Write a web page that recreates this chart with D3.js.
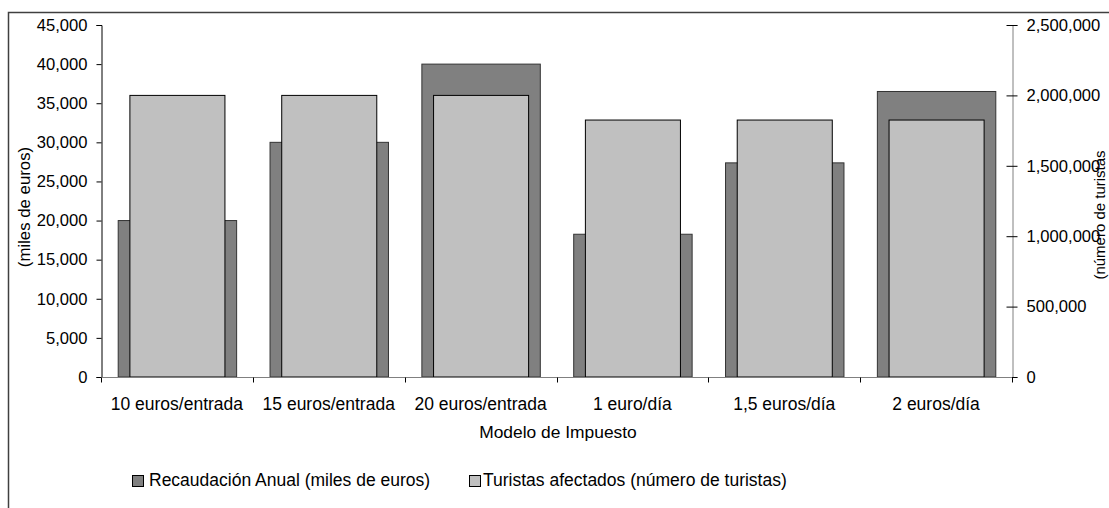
<!DOCTYPE html>
<html>
<head>
<meta charset="utf-8">
<script src="https://cdn.jsdelivr.net/npm/d3@7"></script>
<style>
  html, body { margin: 0; padding: 0; background: #fff; }
  svg { display: block; }
  text { font-family: "Liberation Sans", Arial, sans-serif; fill: #000; }
</style>
</head>
<body>
<svg id="chart" width="1109" height="508"></svg>
<script>
// ---- Data ----
const categories = ["10 euros/entrada", "15 euros/entrada", "20 euros/entrada", "1 euro/día", "1,5 euros/día", "2 euros/día"];
const recaudacion = [20000, 30000, 40000, 18250, 27375, 36500];          // miles de euros (left axis)
const turistas = [2000000, 2000000, 2000000, 1825000, 1825000, 1825000]; // número de turistas (right axis)
const leftTicks = [0, 5000, 10000, 15000, 20000, 25000, 30000, 35000, 40000, 45000];
const rightTicks = [0, 500000, 1000000, 1500000, 2000000, 2500000];
const seriesNames = ["Recaudación Anual (miles de euros)", "Turistas afectados (número de turistas)"];
const seriesColors = ["#808080", "#c0c0c0"];

const svg = d3.select("#chart");
const W = 1109, H = 508;
const plot = { left: 101, right: 1012, top: 25, bottom: 377 };

// frame
svg.append("path")
  .attr("d", `M8.5,${H} L8.5,12.5 L${W},12.5`)
  .attr("fill", "none").attr("stroke", "#404040").attr("stroke-width", 1.5);

const x = d3.scaleBand().domain(categories).range([plot.left, plot.right]).padding(0);
const yL = d3.scaleLinear().domain([0, 45000]).range([plot.bottom, plot.top]);
const yR = d3.scaleLinear().domain([0, 2500000]).range([plot.bottom, plot.top]);

const bw = x.bandwidth();
const darkW = bw * 0.78;
const lightW = bw * 0.626;

// dark bars (primary)
svg.append("g").selectAll("rect").data(categories).join("rect")
  .attr("x", (d) => x(d) + (bw - darkW) / 2 + 0.5)
  .attr("y", (d, i) => yL(recaudacion[i]))
  .attr("width", darkW)
  .attr("height", (d, i) => plot.bottom - yL(recaudacion[i]))
  .attr("fill", seriesColors[0]).attr("stroke", "#333").attr("stroke-width", 1);

// light bars (secondary)
svg.append("g").selectAll("rect").data(categories).join("rect")
  .attr("x", (d) => x(d) + (bw - lightW) / 2 + 0.5)
  .attr("y", (d, i) => yR(turistas[i]))
  .attr("width", lightW)
  .attr("height", (d, i) => plot.bottom - yR(turistas[i]))
  .attr("fill", seriesColors[1]).attr("stroke", "#000").attr("stroke-width", 1);

// left axis
const gL = svg.append("g").attr("transform", `translate(${plot.left + 0.5},0)`)
  .call(d3.axisLeft(yL).tickValues(leftTicks).tickSize(5).tickPadding(9).tickFormat(d3.format(",")));
gL.select(".domain").attr("stroke", "#000");
gL.selectAll(".tick line").attr("stroke", "#000");
gL.selectAll(".tick text").attr("font-size", "16.6px").attr("font-family", "Liberation Sans, Arial, sans-serif");

// right axis
const gR = svg.append("g").attr("transform", `translate(${plot.right + 0.5},0)`)
  .call(d3.axisRight(yR).tickValues(rightTicks).tickSize(5).tickPadding(9).tickFormat(d3.format(",")));
gR.select(".domain").attr("stroke", "#808080");
gR.selectAll(".tick line").attr("stroke", "#000").attr("x1", -6);
gR.selectAll(".tick text").attr("font-size", "16.6px").attr("font-family", "Liberation Sans, Arial, sans-serif");

// bottom axis
const gB = svg.append("g").attr("transform", `translate(0,${plot.bottom + 0.5})`);
gB.append("line").attr("x1", plot.left).attr("x2", plot.right).attr("stroke", "#808080");
const boundaries = categories.map((c) => x(c)).concat([x(categories[categories.length - 1]) + bw]);
gB.selectAll("line.tk").data(boundaries).join("line").attr("class", "tk")
  .attr("x1", (d) => Math.round(d) + 0.5).attr("x2", (d) => Math.round(d) + 0.5)
  .attr("y1", 0).attr("y2", 5).attr("stroke", "#000");
gB.selectAll("text").data(categories).join("text")
  .attr("x", (d) => x(d) + bw / 2).attr("y", 32)
  .attr("text-anchor", "middle").attr("font-size", "17.5px").text((d) => d);

// axis titles
svg.append("text").attr("x", 558).attr("y", 438).attr("text-anchor", "middle")
  .attr("font-size", "17.4px").text("Modelo de Impuesto");
svg.append("text").attr("transform", "translate(30,207) rotate(-90)").attr("text-anchor", "middle")
  .attr("font-size", "16.8px").text("(miles de euros)");
svg.append("text").attr("transform", "translate(1105,215) rotate(-90)").attr("text-anchor", "middle")
  .attr("font-size", "15px").text("(número de turistas");

// legend
const legendItems = [
  { sq: 132, tx: 149 },
  { sq: 469, tx: 483 }
];
const lg = svg.append("g");
lg.selectAll("rect").data(seriesNames).join("rect")
  .attr("x", (d, i) => legendItems[i].sq + 0.5).attr("y", 475.5)
  .attr("width", 11).attr("height", 11)
  .attr("fill", (d, i) => seriesColors[i]).attr("stroke", "#000");
lg.selectAll("text").data(seriesNames).join("text")
  .attr("x", (d, i) => legendItems[i].tx).attr("y", 486)
  .attr("font-size", "17.5px").text((d) => d);
</script>
</body>
</html>
